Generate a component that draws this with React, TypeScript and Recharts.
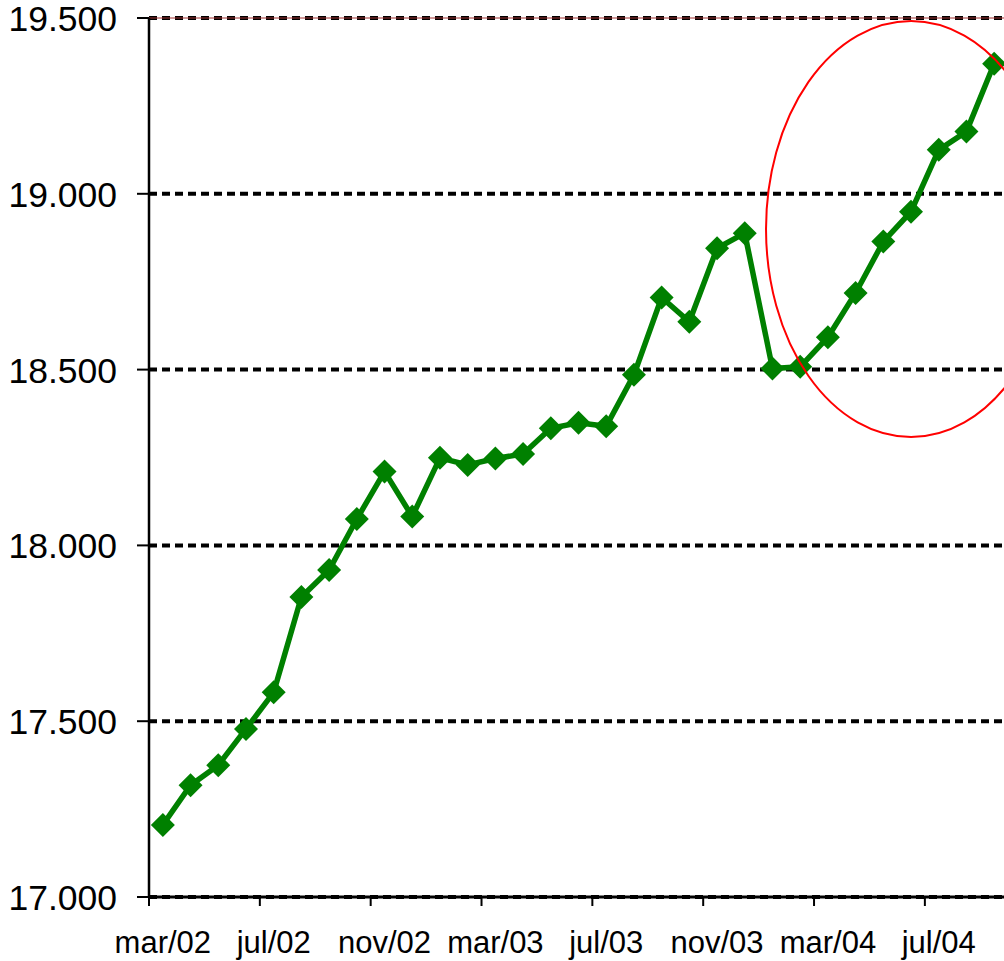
import React from 'react';
import { LineChart, Line, XAxis, YAxis, CartesianGrid, ReferenceLine, ReferenceDot } from 'recharts';

const months = [
  'mar/02', 'abr/02', 'mai/02', 'jun/02', 'jul/02', 'ago/02', 'set/02', 'out/02', 'nov/02', 'dez/02',
  'jan/03', 'fev/03', 'mar/03', 'abr/03', 'mai/03', 'jun/03', 'jul/03', 'ago/03', 'set/03', 'out/03',
  'nov/03', 'dez/03', 'jan/04', 'fev/04', 'mar/04', 'abr/04', 'mai/04', 'jun/04', 'jul/04', 'ago/04', 'set/04',
];

const values = [
  17205, 17318, 17375, 17478, 17582, 17853, 17930, 18075, 18210, 18082,
  18249, 18229, 18247, 18260, 18333, 18349, 18339, 18485, 18705, 18636,
  18845, 18888, 18503, 18508, 18592, 18718, 18864, 18949, 19125, 19177, 19370,
];

const yTicks = [17000, 17500, 18000, 18500, 19000, 19500];

// annotation ellipse centre (category, value)
const highlightCategory = 'jun/04';
const highlightValue = 18900;

const data = months.map((m, i) => ({ m, v: values[i] }));

const fmt = (v: number) => String(v).replace(/\B(?=(\d{3})+(?!\d))/g, '.');

const FONT = '"Liberation Sans", Arial, Helvetica, sans-serif';

const XTick = (props: any) => {
  const { x, y, payload } = props;
  const off = payload && typeof payload.offset === 'number' ? payload.offset : 13.85;
  return (
    <g>
      <line x1={x - off} y1={y} x2={x - off} y2={y + 9} stroke="#000" strokeWidth={2} />
      <text x={x} y={y + 56} textAnchor="middle" fontSize={31} fontFamily={FONT} fill="#000">
        {payload.value}
      </text>
    </g>
  );
};

const YTick = (props: any) => {
  const { x, y, payload } = props;
  return (
    <text x={x} y={y + 13} textAnchor="end" fontSize={35.5} fontFamily={FONT} fill="#000">
      {fmt(payload.value)}
    </text>
  );
};

const Diamond = (props: any) => {
  const { cx, cy } = props;
  if (cx == null || cy == null) return null;
  const r = 12;
  return (
    <polygon
      points={`${cx},${cy - r} ${cx + r},${cy} ${cx},${cy + r} ${cx - r},${cy}`}
      fill="#008000"
    />
  );
};

const EllipseShape = (props: any) => {
  const { cx, cy } = props;
  if (cx == null || cy == null) return null;
  return <ellipse cx={cx} cy={cy} rx={145} ry={208} fill="none" stroke="#ff0000" strokeWidth={2} />;
};

export default function App() {
  return (
    <div
      style={{
        position: 'absolute',
        left: 0,
        top: 0,
        width: 1004,
        height: 961,
        overflow: 'hidden',
        background: '#fff',
      }}
    >
      <LineChart
        width={1010}
        height={961}
        data={data}
        margin={{ top: 18, right: 2, bottom: 0, left: 0 }}
      >
        <CartesianGrid
          horizontal={true}
          vertical={false}
          stroke="#000"
          strokeWidth={4}
          strokeDasharray="8 5"
        />
        <ReferenceLine y={19500} stroke="#a03030" strokeWidth={1} />
        <XAxis
          dataKey="m"
          scale="band"
          interval={3}
          height={64}
          tickSize={0}
          tickMargin={0}
          tickLine={false}
          axisLine={{ stroke: '#000', strokeWidth: 3 }}
          tick={<XTick />}
        />
        <YAxis
          type="number"
          domain={[17000, 19500]}
          ticks={yTicks}
          width={149}
          tickSize={12}
          tickMargin={20}
          tickLine={{ stroke: '#000', strokeWidth: 2 }}
          axisLine={{ stroke: '#000', strokeWidth: 2.5 }}
          tick={<YTick />}
          interval={0}
        />
        <Line
          type="linear"
          dataKey="v"
          stroke="#008000"
          strokeWidth={5.5}
          dot={(p: any) => <Diamond key={p.index} {...p} />}
          activeDot={false}
          isAnimationActive={false}
        />
        <ReferenceDot
          x={highlightCategory}
          y={highlightValue}
          ifOverflow="visible"
          shape={(p: any) => <EllipseShape {...p} />}
        />
      </LineChart>
    </div>
  );
}
